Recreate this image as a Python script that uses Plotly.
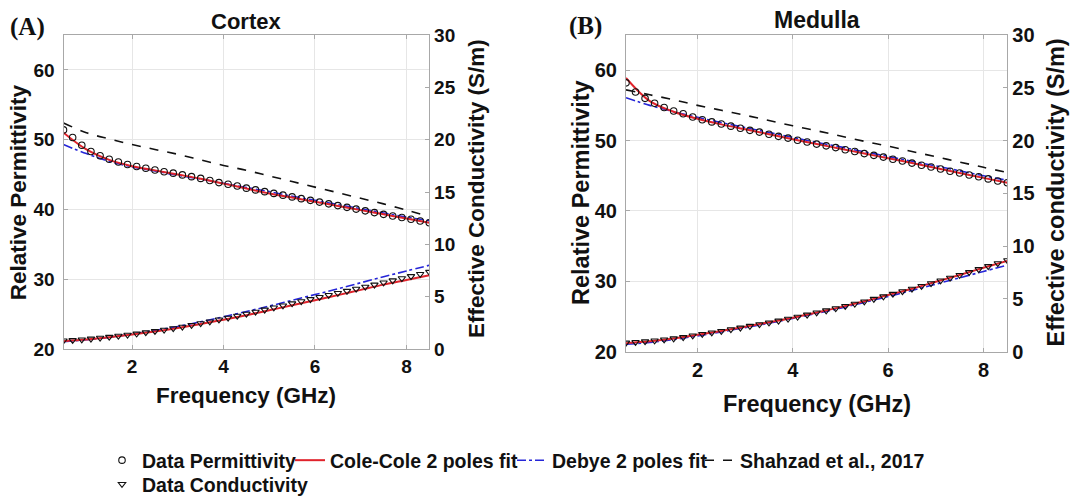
import plotly.graph_objects as go

# ---------------- data ----------------
freq_data = [0.5, 0.7, 0.9, 1.1, 1.3, 1.5, 1.7, 1.9, 2.1, 2.3, 2.5, 2.7, 2.9, 3.1,
             3.3, 3.5, 3.7, 3.9, 4.1, 4.3, 4.5, 4.7, 4.9, 5.1, 5.3, 5.5, 5.7, 5.9,
             6.1, 6.3, 6.5, 6.7, 6.9, 7.1, 7.3, 7.5, 7.7, 7.9, 8.1, 8.3, 8.5]
freq_fit = [0.5, 1.0, 1.5, 2.0, 2.5, 3.0, 3.5, 4.0, 4.5, 5.0, 5.5, 6.0, 6.5, 7.0,
            7.5, 8.0, 8.5]

# Cortex
cortex_perm_data = [51.4, 50.3, 49.2, 48.3, 47.7, 47.2, 46.8, 46.45, 46.15, 45.9,
                    45.65, 45.4, 45.2, 44.95, 44.7, 44.45, 44.15, 43.85, 43.6, 43.35,
                    43.05, 42.8, 42.55, 42.3, 42.05, 41.8, 41.55, 41.3, 41.05, 40.8,
                    40.55, 40.3, 40.05, 39.8, 39.55, 39.3, 39.05, 38.85, 38.6, 38.35, 38.1]
cortex_cond_data = [0.8, 0.84, 0.9, 0.98, 1.06, 1.15, 1.25, 1.35, 1.46, 1.58, 1.7,
                    1.83, 1.97, 2.12, 2.28, 2.45, 2.62, 2.8, 2.98, 3.16, 3.35, 3.55,
                    3.75, 3.95, 4.15, 4.35, 4.55, 4.75, 4.95, 5.14, 5.34, 5.54, 5.74,
                    5.94, 6.14, 6.34, 6.54, 6.75, 6.95, 7.15, 7.36]
cortex_perm_cole = [51.0, 48.6, 47.1, 46.2, 45.6, 45.0, 44.4, 43.7, 43.0, 42.3, 41.7,
                    41.1, 40.5, 39.9, 39.3, 38.7, 38.1]
cortex_perm_debye = [49.3, 48.0, 46.9, 46.1, 45.5, 44.9, 44.35, 43.75, 43.15, 42.55,
                     41.9, 41.3, 40.7, 40.1, 39.5, 38.9, 38.4]
cortex_perm_shahzad = [52.4, 51.0, 50.1, 49.3, 48.6, 47.9, 47.1, 46.3, 45.6, 44.8,
                       44.0, 43.2, 42.4, 41.6, 40.8, 39.9, 39.0]
cortex_cond_cole = [0.75, 0.9, 1.12, 1.38, 1.67, 2.0, 2.38, 2.8, 3.23, 3.7, 4.17,
                    4.65, 5.15, 5.65, 6.15, 6.6, 7.05]
cortex_cond_debye = [0.7, 0.88, 1.12, 1.42, 1.77, 2.15, 2.6, 3.08, 3.58, 4.1, 4.65,
                     5.2, 5.75, 6.33, 6.9, 7.45, 8.0]

# Medulla
medulla_perm_data = [58.2, 56.9, 56.0, 55.3, 54.7, 54.2, 53.8, 53.35, 52.95, 52.65,
                     52.35, 52.05, 51.75, 51.45, 51.2, 50.9, 50.6, 50.35, 50.05, 49.8,
                     49.5, 49.25, 49.0, 48.7, 48.45, 48.15, 47.9, 47.65, 47.35, 47.1,
                     46.8, 46.5, 46.25, 45.95, 45.65, 45.4, 45.1, 44.85, 44.55, 44.25, 44.0]
medulla_cond_data = [0.85, 0.9, 0.97, 1.05, 1.15, 1.25, 1.37, 1.52, 1.67, 1.81, 1.95,
                     2.11, 2.27, 2.43, 2.59, 2.75, 2.93, 3.11, 3.3, 3.5, 3.7, 3.9, 4.1,
                     4.31, 4.53, 4.75, 4.99, 5.23, 5.47, 5.71, 5.95, 6.21, 6.47, 6.73,
                     6.99, 7.25, 7.53, 7.81, 8.09, 8.37, 8.65]
medulla_perm_cole = [58.9, 55.6, 54.1, 53.1, 52.3, 51.6, 50.9, 50.2, 49.5, 48.85,
                     48.15, 47.5, 46.8, 46.1, 45.4, 44.7, 44.0]
medulla_perm_debye = [56.1, 55.0, 54.1, 53.3, 52.55, 51.85, 51.15, 50.45, 49.75,
                      49.1, 48.4, 47.75, 47.05, 46.4, 45.7, 45.0, 44.35]
medulla_perm_shahzad = [57.2, 56.5, 55.8, 55.0, 54.3, 53.6, 52.85, 52.1, 51.4, 50.65,
                        49.9, 49.2, 48.45, 47.7, 46.95, 46.2, 45.45]
medulla_cond_cole = [0.8, 0.98, 1.25, 1.6, 1.97, 2.37, 2.78, 3.22, 3.72, 4.22, 4.77,
                     5.37, 5.97, 6.62, 7.27, 7.95, 8.6]
medulla_cond_debye = [0.7, 0.88, 1.15, 1.5, 1.88, 2.28, 2.7, 3.15, 3.63, 4.13, 4.67,
                      5.23, 5.8, 6.4, 7.0, 7.6, 8.2]

x_ticks = [2, 4, 6, 8]
perm_ticks = [20, 30, 40, 50, 60]
cond_ticks = [0, 5, 10, 15, 20, 25, 30]

# ---------------- styling ----------------
W, H = 1075, 498
RED = "#e0232b"
BLUE = "#2626d8"
BLACK = "#111111"
AXIS = "#a8a8a8"
GRID = "#e6e6e6"
FONT = "Liberation Sans, Arial, sans-serif"
SERIF = "Liberation Serif, Times New Roman, serif"

fig = go.Figure()

panels = [
    dict(xa="x", ya="y", ya2="y2", perm=cortex_perm_data, cond=cortex_cond_data,
         pc=cortex_perm_cole, pd=cortex_perm_debye, ps=cortex_perm_shahzad,
         cc=cortex_cond_cole, cd=cortex_cond_debye),
    dict(xa="x2", ya="y3", ya2="y4", perm=medulla_perm_data, cond=medulla_cond_data,
         pc=medulla_perm_cole, pd=medulla_perm_debye, ps=medulla_perm_shahzad,
         cc=medulla_cond_cole, cd=medulla_cond_debye),
]

for i, p in enumerate(panels):
    first = i == 0
    fig.add_trace(go.Scatter(x=freq_fit, y=p["ps"], xaxis=p["xa"], yaxis=p["ya"], mode="lines",
                             line=dict(color=BLACK, width=1.6, dash="dash", shape="spline"),
                             name="Shahzad et al., 2017", showlegend=first, legend="legend5"))
    fig.add_trace(go.Scatter(x=freq_fit, y=p["pd"], xaxis=p["xa"], yaxis=p["ya"], mode="lines",
                             line=dict(color=BLUE, width=1.6, dash="dashdot", shape="spline"),
                             name="Debye 2 poles fit", showlegend=first, legend="legend4"))
    fig.add_trace(go.Scatter(x=freq_fit, y=p["pc"], xaxis=p["xa"], yaxis=p["ya"], mode="lines",
                             line=dict(color=RED, width=2, shape="spline"),
                             name="Cole-Cole 2 poles fit", showlegend=first, legend="legend3"))
    fig.add_trace(go.Scatter(x=freq_fit, y=p["cd"], xaxis=p["xa"], yaxis=p["ya2"], mode="lines",
                             line=dict(color=BLUE, width=1.6, dash="dashdot", shape="spline"),
                             showlegend=False))
    fig.add_trace(go.Scatter(x=freq_fit, y=p["cc"], xaxis=p["xa"], yaxis=p["ya2"], mode="lines",
                             line=dict(color=RED, width=2, shape="spline"),
                             showlegend=False))
    fig.add_trace(go.Scatter(x=freq_data, y=p["perm"], xaxis=p["xa"], yaxis=p["ya"], mode="markers",
                             marker=dict(symbol="circle-open", size=6.5, color=BLACK,
                                         line=dict(width=1.1, color=BLACK)),
                             name="Data Permittivity", showlegend=first, legend="legend"))
    fig.add_trace(go.Scatter(x=freq_data, y=p["cond"], xaxis=p["xa"], yaxis=p["ya2"], mode="markers",
                             marker=dict(symbol="triangle-down-open", size=6.5, color=BLACK,
                                         line=dict(width=1.1, color=BLACK)),
                             name="Data Conductivity", showlegend=first, legend="legend2"))

# panel geometry (pixels)
geo = {
    "A": dict(l=63.5, r=429.3, t=35, b=349, tick=19, title=22.5),
    "B": dict(l=626, r=1007.3, t=35, b=351.7, tick=20, title=23.5),
}

def xd(g):
    return [g["l"] / W, g["r"] / W]

def yd(g):
    return [1 - g["b"] / H, 1 - g["t"] / H]

def xaxis(g):
    return dict(domain=xd(g), range=[0.5, 8.5], tickvals=x_ticks, showgrid=True,
                gridcolor=GRID, gridwidth=1, showline=True, linecolor=AXIS, linewidth=1,
                mirror="ticks", ticks="inside", ticklen=4, tickcolor=AXIS, zeroline=False,
                automargin=False, ticklabelstandoff=0,
                tickfont=dict(family=FONT, size=g["tick"], color="#111", weight="bold"))

def yaxis_left(g, anchor):
    return dict(domain=yd(g), range=[20, 65], tickvals=perm_ticks, showgrid=True,
                gridcolor=GRID, showline=True, linecolor=AXIS, linewidth=1, mirror=True,
                ticks="inside", ticklen=4, tickcolor=AXIS, zeroline=False, anchor=anchor,
                automargin=False, ticklabelstandoff=4,
                tickfont=dict(family=FONT, size=g["tick"], color="#111", weight="bold"))

def yaxis_right(g, anchor, overlay):
    return dict(domain=yd(g), range=[0, 30], tickvals=cond_ticks, showgrid=False,
                showline=True, linecolor=AXIS, linewidth=1, side="right", overlaying=overlay,
                ticks="inside", ticklen=4, tickcolor=AXIS, zeroline=False, anchor=anchor,
                automargin=False,
                tickfont=dict(family=FONT, size=g["tick"], color="#111", weight="bold"))

gA, gB = geo["A"], geo["B"]

annotations = []
def txt(x, y, text, size, angle=0, family=FONT, weight="bold"):
    annotations.append(dict(x=x / W, y=1 - y / H, xref="paper", yref="paper", text=text,
                            showarrow=False, textangle=angle, xanchor="center", yanchor="middle",
                            font=dict(family=family, size=size, color="#111", weight=weight)))

# panel A texts
txt(246.4, 21.5, "Cortex", 22)
txt(27.5, 27, "(A)", 25, family=SERIF)
txt(18.6, 192.6, "Relative Permittivity", gA["title"], angle=-90)
txt(476, 189, "Effective Conductivity (S/m)", gA["title"], angle=-90)
txt(246.4, 395, "Frequency (GHz)", gA["title"])
# panel B texts
txt(816.7, 20, "Medulla", 23)
txt(585, 26, "(B)", 25, family=SERIF)
txt(581, 193, "Relative Permittivity", gB["title"], angle=-90)
txt(1055.5, 193, "Effective conductivity (S/m)", gB["title"], angle=-90)
txt(816.7, 404, "Frequency (GHz)", gB["title"])

legend_font = dict(family=FONT, size=19.5, color="#111", weight="bold")

def leg(x_px, y_px):
    return dict(orientation="h", x=x_px / W, xanchor="left", y=1 - y_px / H, yanchor="top",
                font=legend_font, bgcolor="rgba(0,0,0,0)", itemwidth=30)

fig.update_layout(
    width=W, height=H, autosize=False,
    margin=dict(l=0, r=0, t=0, b=0, autoexpand=False),
    paper_bgcolor="white", plot_bgcolor="white",
    xaxis=xaxis(gA),
    yaxis=yaxis_left(gA, "x"),
    yaxis2=yaxis_right(gA, "x", "y"),
    xaxis2=xaxis(gB) | dict(anchor="y3"),
    yaxis3=yaxis_left(gB, "x2"),
    yaxis4=yaxis_right(gB, "x2", "y3"),
    annotations=annotations,
    legend=leg(102, 441),
    legend2=leg(102, 465),
    legend3=leg(290, 441),
    legend4=leg(512, 441),
    legend5=leg(700, 441),
    showlegend=True,
)

fig.write_html(
    "out.html",
    config={"displayModeBar": False},
    post_script="document.body.style.margin='0px';document.body.style.overflow='hidden';",
)
